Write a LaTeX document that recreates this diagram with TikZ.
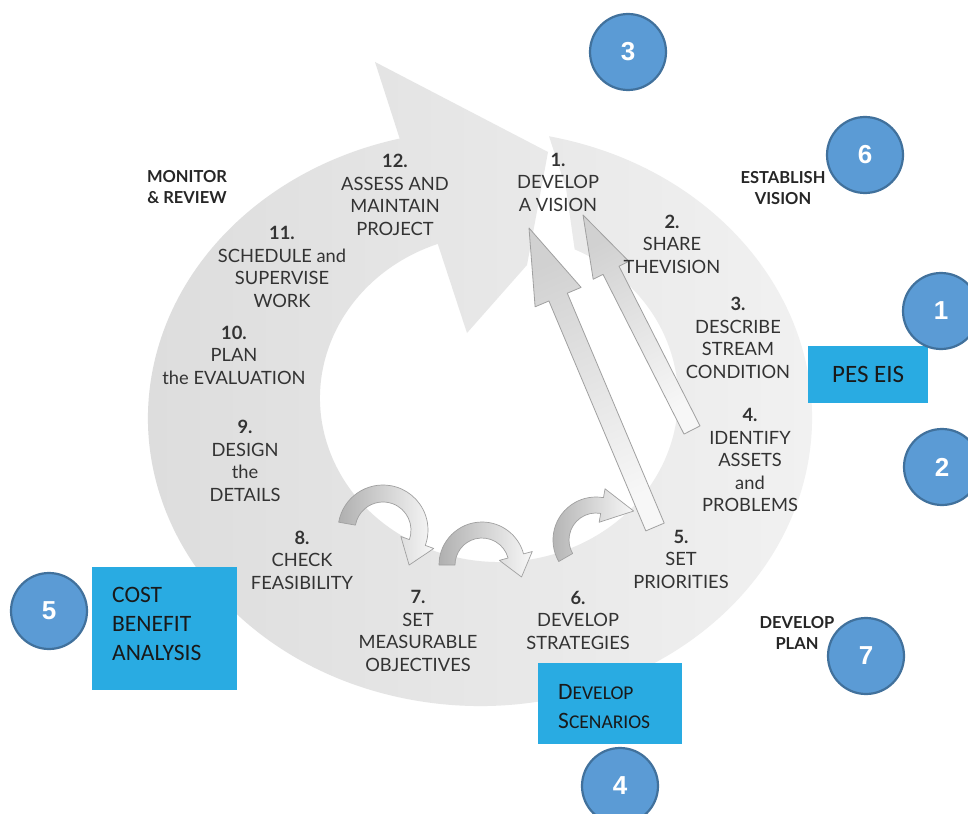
\documentclass[tikz,border=0pt]{standalone}
\usepackage{fontspec}
\setmainfont{Lato}
\newfontfamily\boxfont{Carlito}
\newfontfamily\numfont{Liberation Sans}
\usetikzlibrary{calc}

\definecolor{ringL}{HTML}{DCDCDC}
\definecolor{ringR}{HTML}{F2F2F2}
\definecolor{labelgray}{HTML}{333333}
\definecolor{badgefill}{HTML}{5B9BD5}
\definecolor{badgeedge}{HTML}{41719C}
\definecolor{boxblue}{HTML}{29ABE2}
\definecolor{arrowedge}{HTML}{A0A0A0}

\tikzset{
  steplabel/.style={align=center, text=labelgray, font=\fontsize{18.3}{22.5}\selectfont, inner sep=0pt},
  phase/.style={align=center, text=black!85, font=\bfseries\fontsize{16.5}{21}\selectfont, inner sep=0pt},
  badge/.style={circle, minimum size=76pt, inner sep=0pt, fill=badgefill, draw=badgeedge,
    line width=2.2pt, text=white, font=\numfont\bfseries\fontsize{26}{26}\selectfont},
  notebox/.style={fill=boxblue, draw=none, inner sep=0pt},
  notetext/.style={font=\boxfont\fontsize{23.5}{29}\selectfont, text=black!90, inner sep=0pt, align=left},
  straightarrow/.style={draw=arrowedge, line width=0.8pt, line join=round},
  curvedarrow/.style={draw=arrowedge, line width=0.7pt, left color=gray!62, right color=gray!6, line join=round},
}

\begin{document}
\begin{tikzpicture}[x=1pt,y=-1pt]
\useasboundingbox (0,0) rectangle (968,813);
\clip (0,0) rectangle (968,813);
\fill[white] (0,0) rectangle (968,813);

% the planning cycle: a wide ring ending in a large arrowhead
\path[left color=ringL, right color=ringR]
  (375,62) -- (548,152) -- (527,265) -- (467,333)
  -- ($(499,398)+(250:179 and 164)$)
  arc[start angle=250, end angle=-65, x radius=179, y radius=164]
  -- (566,188)
  -- ($(480,418)+(-78:332 and 288)$)
  arc[start angle=-78, end angle=256, x radius=332, y radius=288]
  -- cycle;

% two long arrows pointing back to the vision
\path[straightarrow, top color=gray!36, bottom color=gray!6, shading angle=23]
  (529,228) -- (581.1,287.4) -- (567.3,293.2) -- (664.2,523.1)
  -- (645.8,530.9) -- (548.9,301.0) -- (535.1,306.8) -- cycle;
\path[straightarrow, top color=gray!36, bottom color=gray!6, shading angle=27]
  (583,215) -- (628.8,261.3) -- (619.0,266.2) -- (700.0,425.9)
  -- (684.0,434.1) -- (603.0,274.4) -- (593.2,279.3) -- cycle;

% three small looping arrows along the lower inner edge
\begin{scope}[shift={(383,530)}]
  \path[curvedarrow] (190:45) arc[start angle=190, end angle=380, radius=45]
    -- (380:54) -- (413.3:43.7) -- (380:19) -- (380:28)
    arc[start angle=380, end angle=190, radius=28] -- cycle;
\end{scope}
\begin{scope}[shift={(482,565)}]
  \path[curvedarrow] (180:43) arc[start angle=180, end angle=345, radius=43]
    -- (345:52) -- (376.9:41.3) -- (345:18) -- (345:27)
    arc[start angle=345, end angle=180, radius=27] -- cycle;
\end{scope}
\begin{scope}[shift={(596,540)}]
  \path[curvedarrow] (150:43) arc[start angle=150, end angle=280, radius=43]
    -- (280:52) -- (322.4:47.5) -- (280:18) -- (280:27)
    arc[start angle=280, end angle=150, radius=27] -- cycle;
\end{scope}

% steps of the cycle
\node[steplabel] (s1)  at (558,182) {\textbf{1.}\\DEVELOP\\A VISION};
\node[steplabel] (s2)  at (672,244) {\textbf{2.}\\SHARE\\THEVISION};
\node[steplabel] (s3)  at (738,338) {\textbf{3.}\\DESCRIBE\\STREAM\\CONDITION};
\node[steplabel] (s4)  at (750,460) {\textbf{4.}\\IDENTIFY\\ASSETS\\and\\PROBLEMS};
\node[steplabel] (s5)  at (681,559) {\textbf{5.}\\SET\\PRIORITIES};
\node[steplabel] (s6)  at (578,620) {\textbf{6.}\\DEVELOP\\STRATEGIES};
\node[steplabel] (s7)  at (418,631) {\textbf{7.}\\SET\\MEASURABLE\\OBJECTIVES};
\node[steplabel] (s8)  at (302,560) {\textbf{8.}\\CHECK\\FEASIBILITY};
\node[steplabel] (s9)  at (245,461) {\textbf{9.}\\DESIGN\\the\\DETAILS};
\node[steplabel] (s10) at (234,355) {\textbf{10.}\\PLAN\\the EVALUATION};
\node[steplabel] (s11) at (282,267) {\textbf{11.}\\SCHEDULE and\\SUPERVISE\\WORK};
\node[steplabel] (s12) at (395,195) {\textbf{12.}\\ASSESS AND\\MAINTAIN\\PROJECT};

% phase headings
\node[phase] (monitor)   at (187,187) {MONITOR\\\& REVIEW};
\node[phase] (establish) at (783,188) {ESTABLISH\\VISION};
\node[phase] (devplan)   at (797,633) {DEVELOP\\PLAN};

% annotation boxes
\node[notebox, anchor=north west, minimum width=120pt, minimum height=57pt,
      font=\boxfont\fontsize{25}{25}\selectfont, text=black!90] (pes) at (808,346) {PES EIS};
\node[notebox, anchor=north west, minimum width=145pt, minimum height=123pt] (cost) at (92,567) {};
\node[notetext, anchor=north west] (costtext) at (112,587) {COST\\BENEFIT\\ANALYSIS};
\node[notebox, anchor=north west, minimum width=144pt, minimum height=81pt] (scen) at (538,663) {};
\node[notetext, anchor=north west] (scentext) at (558,684)
  {D{\fontsize{19.5}{29}\selectfont EVELOP}\\S{\fontsize{19.5}{29}\selectfont CENARIOS}};

% numbered badges
\node[badge] (b1) at (941,311) {1};
\node[badge] (b2) at (942,467) {2};
\node[badge] (b3) at (628,52)  {3};
\node[badge] (b4) at (620,786) {4};
\node[badge] (b5) at (49,611)  {5};
\node[badge] (b6) at (865,155) {6};
\node[badge] (b7) at (866,656) {7};
\end{tikzpicture}
\end{document}
